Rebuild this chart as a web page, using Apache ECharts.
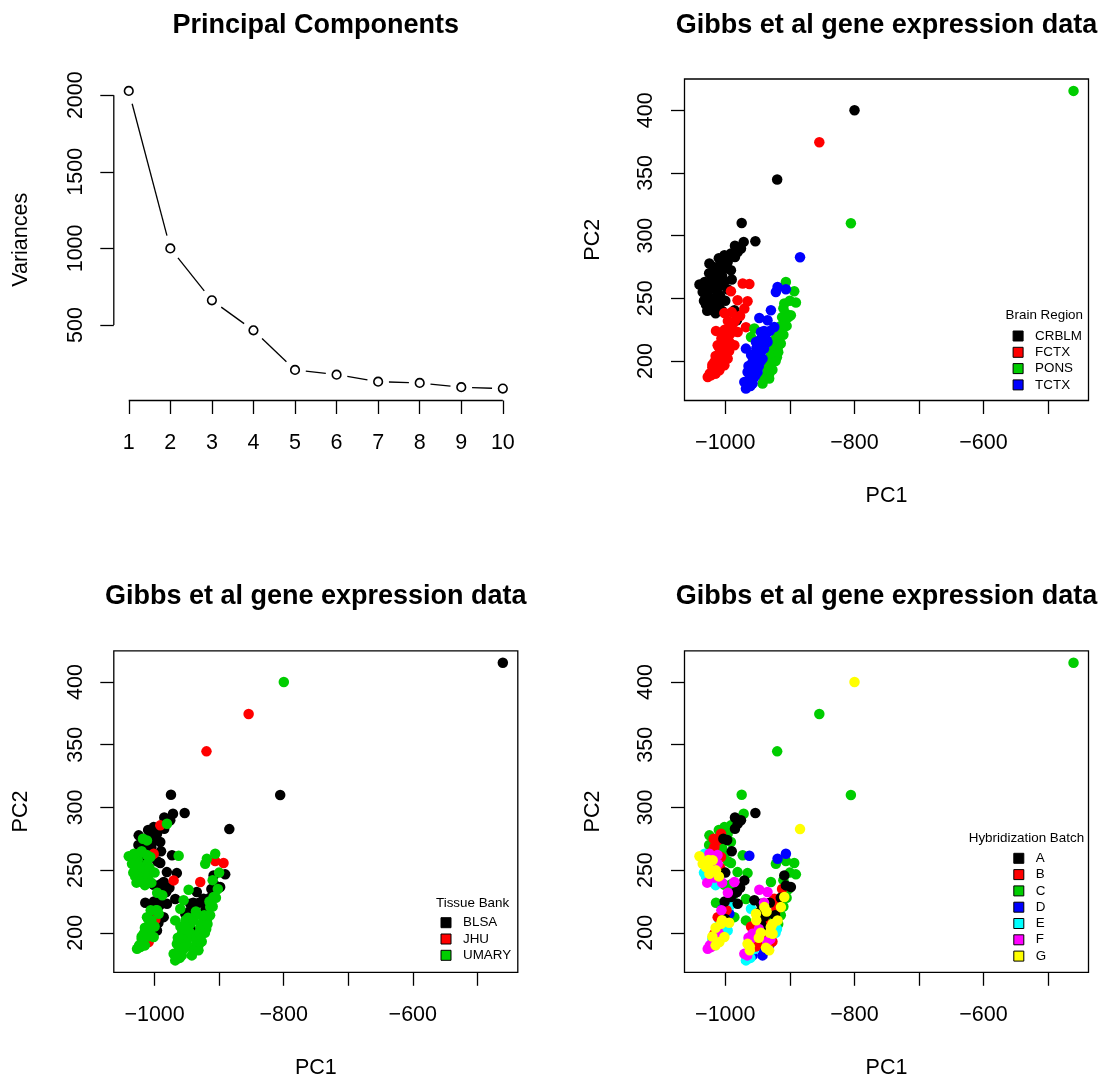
<!DOCTYPE html>
<html>
<head>
<meta charset="utf-8">
<script src="https://cdn.jsdelivr.net/npm/echarts@6/dist/echarts.min.js"></script>
<style>
  html, body { margin: 0; padding: 0; background: #ffffff; }
  #chart { width: 1102px; height: 1078px; }
</style>
</head>
<body>
<div id="chart"></div>
<script>
// ---- Scree plot: variances of the first ten principal components ----
const pcIndex   = [1, 2, 3, 4, 5, 6, 7, 8, 9, 10];
const variances = [2028, 1000, 661, 465, 207, 176, 130, 122, 94, 85];
const varTicks  = [500, 1000, 1500, 2000];

// ---- Sample scores on the first two components ----
const pc1 = [
  // cerebellum (49)
  -974.6, -971.5, -953.4, -1024.6, -1040.0, -1001.4, -991.2, -980.8, -975.7, -1006.6,
  -1011.8, -991.2, -1016.9, -1024.6, -1001.4, -1027.2, -1011.8, -1024.6, -1014.4, -1019.5,
  -1029.9, -1006.6, -1019.5, -996.3, -1030.0, -1022.0, -1017.0, -1008.0, -1026.0, -1012.0,
  -1020.0, -1005.0, -997.0, -1015.0, -1028.0, -1010.0, -985.0, -1032.0,
  -1035.0, -1033.0, -1025.0, -1018.0, -1010.0, -1003.0, -1005.0, -1000.0, -996.0, -990.0,
  -985.0,
  // frontal cortex (50)
  -973.0, -962.7, -991.2, -981.0, -965.5, -1001.4, -970.5, -968.0, -1014.4, -980.8,
  -993.7, -1006.6, -1016.9, -1022.1, -1027.2, -1009.1, -996.3, -985.9, -1004.0, -991.2,
  -1011.8, -1019.5, -1001.4, -998.9, -1020.0, -1012.0, -1005.0, -998.0, -992.0, -1015.0,
  -1008.0, -1000.0, -994.0, -988.0, -977.0,
  -1024.0, -1016.0, -1020.0, -1011.0, -1015.0, -1005.0, -1010.0, -1000.0, -1006.0, -996.0,
  -1001.0, -990.0, -996.0, -985.0, -990.0,
  // cerebellum samples lying inside the cortex band (2)
  -985.9, -981.9,
  // temporal cortex (42)
  -919.0, -906.1, -921.6, -929.3, -947.3, -934.6, -924.1, -944.7, -952.5, -934.6,
  -968.0, -944.7, -957.8, -965.5, -950.0, -970.5, -968.0, -957.8, -942.3, -939.5,
  -962.0, -955.0, -948.0, -960.0, -952.0, -964.0, -940.0, -955.0,
  -966.0, -961.0, -962.0, -953.0, -958.0, -948.0, -954.0, -945.0, -948.0, -940.0,
  -946.0, -936.0, -940.0, -931.0,
  // pons (40)
  -906.1, -893.2, -890.6, -908.6, -898.4, -908.6, -913.8, -955.0, -960.2, -919.0,
  -926.7, -931.8, -942.3, -921.6, -906.1, -929.3, -934.6, -925.0, -915.0, -912.0,
  -930.0, -920.0, -937.0, -910.0,
  -940.0, -932.0, -935.0, -927.0, -931.0, -922.0, -927.0, -918.0, -923.0, -914.0,
  -918.0, -910.0, -914.0, -905.0, -902.0, -900.0,
  // outlying samples (6)
  -884.2, -919.6, -854.3, -805.4, -799.8, -460.5
];
const pc2 = [
  310.1, 295.0, 295.5, 277.7, 261.0, 284.3, 285.7, 287.0, 289.7, 279.0,
  273.7, 272.4, 268.4, 263.0, 263.0, 255.0, 255.0, 247.0, 249.8, 240.5,
  252.4, 260.4, 257.8, 279.0, 245.0, 250.0, 244.0, 252.0, 258.0, 262.0,
  265.0, 268.0, 274.0, 238.0, 240.0, 245.0, 283.0, 263.0,
  255.0, 248.0, 270.0, 275.0, 282.0, 275.0, 240.0, 248.0, 257.0, 265.0,
  292.0,

  261.8, 261.4, 255.6, 248.4, 247.6, 238.3, 241.8, 227.0, 224.0, 223.1,
  215.2, 207.2, 199.2, 188.6, 187.2, 192.6, 201.9, 212.5, 219.2, 228.5,
  212.5, 191.2, 196.6, 210.4, 195.0, 202.0, 210.0, 218.0, 222.0, 190.0,
  198.0, 205.0, 208.0, 230.0, 236.0,
  190.0, 190.0, 197.0, 197.0, 204.0, 204.0, 211.0, 211.0, 218.0, 218.0,
  225.0, 225.0, 232.0, 232.0, 239.0,

  240.5, 232.5,

  259.0, 257.2, 255.0, 240.5, 234.3, 232.5, 227.1, 223.1, 215.2, 215.2,
  209.9, 207.2, 199.2, 191.2, 191.2, 183.2, 178.0, 182.0, 201.9, 220.5,
  186.0, 195.0, 203.0, 205.0, 210.0, 196.0, 213.0, 187.0,
  182.0, 180.0, 189.0, 189.0, 196.0, 196.0, 203.0, 200.0, 212.0, 210.0,
  217.0, 217.0, 224.0, 224.0,

  263.0, 255.6, 246.6, 245.8, 236.5, 228.5, 220.5, 225.9, 219.2, 209.9,
  199.2, 190.0, 182.0, 217.9, 237.8, 204.5, 196.6, 212.0, 225.0, 235.0,
  195.0, 203.0, 188.0, 242.0,
  186.0, 186.0, 193.0, 193.0, 200.0, 200.0, 207.0, 207.0, 214.0, 214.0,
  221.0, 221.0, 228.0, 228.0, 235.0, 248.0,

  282.7, 344.7, 374.5, 309.9, 400.0, 415.4
];

// ---- Sample annotations ----
const brainRegion = [
  'CRBLM','CRBLM','CRBLM','CRBLM','CRBLM','CRBLM','CRBLM','CRBLM','CRBLM','CRBLM',
  'CRBLM','CRBLM','CRBLM','CRBLM','CRBLM','CRBLM','CRBLM','CRBLM','CRBLM','CRBLM',
  'CRBLM','CRBLM','CRBLM','CRBLM','CRBLM','CRBLM','CRBLM','CRBLM','CRBLM','CRBLM',
  'CRBLM','CRBLM','CRBLM','CRBLM','CRBLM','CRBLM','CRBLM','CRBLM',
  'CRBLM','CRBLM','CRBLM','CRBLM','CRBLM','CRBLM','CRBLM','CRBLM','CRBLM','CRBLM',
  'CRBLM',

  'FCTX','FCTX','FCTX','FCTX','FCTX','FCTX','FCTX','FCTX','FCTX','FCTX',
  'FCTX','FCTX','FCTX','FCTX','FCTX','FCTX','FCTX','FCTX','FCTX','FCTX',
  'FCTX','FCTX','FCTX','FCTX','FCTX','FCTX','FCTX','FCTX','FCTX','FCTX',
  'FCTX','FCTX','FCTX','FCTX','FCTX',
  'FCTX','FCTX','FCTX','FCTX','FCTX','FCTX','FCTX','FCTX','FCTX','FCTX',
  'FCTX','FCTX','FCTX','FCTX','FCTX',

  'CRBLM','CRBLM',

  'TCTX','TCTX','TCTX','TCTX','TCTX','TCTX','TCTX','TCTX','TCTX','TCTX',
  'TCTX','TCTX','TCTX','TCTX','TCTX','TCTX','TCTX','TCTX','TCTX','TCTX',
  'TCTX','TCTX','TCTX','TCTX','TCTX','TCTX','TCTX','TCTX',
  'TCTX','TCTX','TCTX','TCTX','TCTX','TCTX','TCTX','TCTX','TCTX','TCTX',
  'TCTX','TCTX','TCTX','TCTX',

  'PONS','PONS','PONS','PONS','PONS','PONS','PONS','PONS','PONS','PONS',
  'PONS','PONS','PONS','PONS','PONS','PONS','PONS','PONS','PONS','PONS',
  'PONS','PONS','PONS','PONS',
  'PONS','PONS','PONS','PONS','PONS','PONS','PONS','PONS','PONS','PONS',
  'PONS','PONS','PONS','PONS','PONS','PONS',

  'TCTX','CRBLM','FCTX','PONS','CRBLM','PONS'
];
const tissueBank = [
  'BLSA','BLSA','BLSA','BLSA','UMARY','BLSA','JHU','UMARY','BLSA','BLSA',
  'UMARY','BLSA','BLSA','UMARY','JHU','UMARY','UMARY','UMARY','UMARY','UMARY',
  'UMARY','UMARY','BLSA','BLSA','UMARY','UMARY','UMARY','UMARY','UMARY','UMARY',
  'UMARY','BLSA','BLSA','UMARY','UMARY','UMARY','BLSA','UMARY',
  'UMARY','UMARY','BLSA','UMARY','BLSA','BLSA','UMARY','UMARY','BLSA','BLSA',
  'BLSA',

  'BLSA','UMARY','BLSA','BLSA','BLSA','BLSA','JHU','BLSA','BLSA','BLSA',
  'UMARY','UMARY','UMARY','UMARY','UMARY','JHU','BLSA','BLSA','BLSA','BLSA',
  'UMARY','UMARY','UMARY','JHU','UMARY','UMARY','UMARY','UMARY','BLSA','UMARY',
  'UMARY','UMARY','BLSA','UMARY','BLSA',
  'UMARY','UMARY','UMARY','UMARY','UMARY','UMARY','UMARY','BLSA','UMARY','UMARY',
  'BLSA','BLSA','UMARY','BLSA','BLSA',

  'BLSA','BLSA',

  'UMARY','JHU','UMARY','JHU','UMARY','BLSA','BLSA','BLSA','BLSA','UMARY',
  'UMARY','UMARY','UMARY','UMARY','UMARY','UMARY','UMARY','UMARY','BLSA','BLSA',
  'UMARY','UMARY','UMARY','UMARY','UMARY','UMARY','BLSA','UMARY',
  'UMARY','UMARY','UMARY','UMARY','UMARY','UMARY','UMARY','UMARY','UMARY','UMARY',
  'BLSA','UMARY','BLSA','BLSA',

  'UMARY','JHU','BLSA','BLSA','BLSA','UMARY','UMARY','UMARY','UMARY','UMARY',
  'UMARY','UMARY','UMARY','BLSA','BLSA','UMARY','UMARY','UMARY','UMARY','BLSA',
  'UMARY','UMARY','UMARY','UMARY',
  'UMARY','UMARY','UMARY','UMARY','UMARY','UMARY','UMARY','UMARY','UMARY','UMARY',
  'BLSA','UMARY','BLSA','UMARY','UMARY','UMARY',

  'BLSA','JHU','JHU','BLSA','UMARY','BLSA'
];
const hybBatch = [
  'C','C','A','C','G','C','C','A','A','B',
  'B','C','B','F','C','G','F','G','G','E',
  'G','B','G','C','E','G','F','B','G','F',
  'B','C','A','E','F','G','A','E',
  'G','E','C','B','C','A','F','A','C','A',
  'A',

  'C','D','C','C','C','C','A','C','C','A',
  'D','G','B','F','F','G','E','C','D','A',
  'B','B','G','C','E','F','G','B','E','G',
  'F','E','G','C','A',
  'F','E','G','B','G','D','E','A','F','C',
  'A','D','F','A','C',

  'F','A',

  'D','C','C','C','F','F','B','A','G','A',
  'C','A','F','G','B','F','E','D','A','G',
  'G','E','F','B','G','F','A','E',
  'F','E','G','B','F','G','E','G','A','B',
  'A','G','F','A',

  'D','C','C','A','A','G','G','A','E','G',
  'G','D','D','B','A','G','B','C','C','B',
  'F','E','G','C',
  'D','G','F','B','G','E','G','C','A','C',
  'B','C','A','C','C','C',

  'G','C','C','C','G','C'
];

// ---- Factor levels and the R default palette ----
const regionLevels = ['CRBLM', 'FCTX', 'PONS', 'TCTX'];
const bankLevels   = ['BLSA', 'JHU', 'UMARY'];
const batchLevels  = ['A', 'B', 'C', 'D', 'E', 'F', 'G'];
const palette      = ['#000000', '#FF0000', '#00CD00', '#0000FF', '#00FFFF', '#FF00FF', '#FFFF00'];

// stacking of the groups within each score plot (first drawn = lowest)
const regionDrawOrder = ['CRBLM', 'FCTX', 'PONS', 'TCTX'];
const bankDrawOrder   = ['BLSA', 'JHU', 'UMARY'];
const batchDrawOrder  = ['C', 'D', 'E', 'B', 'A', 'F', 'G'];

// ---- Axis ticks of the score plots ----
const pc1Ticks  = [-1000, -900, -800, -700, -600, -500];
const pc1Labels = [-1000, -800, -600];
const pc2Ticks  = [200, 250, 300, 350, 400];

const FONT = '"Liberation Sans", Arial, Helvetica, sans-serif';
const LABEL_SIZE = 21.5;

// R-style axis range: data range widened by 4% on each side
function rRange(values) {
  const lo = Math.min(...values), hi = Math.max(...values);
  const pad = (hi - lo) * 0.04;
  return [lo - pad, hi + pad];
}
const pcRange  = rRange(pcIndex);
const varRange = rRange(variances);
const pc1Range = rRange(pc1);
const pc2Range = rRange(pc2);

const minus = v => String(v).replace('-', '\u2212');

// plot regions (left, top) of the 2 x 2 panels
const PLOT_W = 404, PLOT_H = 321.5;
const panels = [
  { left: 113.8, top: 79 },
  { left: 684.5, top: 79 },
  { left: 113.8, top: 650.8 },
  { left: 684.5, top: 650.8 }
];

const tickStyle = { show: true, inside: false, length: 13.5, lineStyle: { color: '#000', width: 1.3 } };

function xAxisFor(k, range, ticks, labels) {
  return {
    gridIndex: k, type: 'value', min: range[0], max: range[1],
    axisLine: { show: false }, splitLine: { show: false },
    axisTick: Object.assign({ customValues: ticks }, tickStyle),
    axisLabel: {
      customValues: labels, margin: 31.5, color: '#000',
      fontFamily: FONT, fontSize: LABEL_SIZE, formatter: minus
    }
  };
}
function yAxisFor(k, range, ticks) {
  return {
    gridIndex: k, type: 'value', min: range[0], max: range[1],
    axisLine: { show: false }, splitLine: { show: false },
    axisTick: Object.assign({ customValues: ticks }, tickStyle),
    axisLabel: {
      customValues: ticks, margin: 27, rotate: 90, color: '#000',
      fontFamily: FONT, fontSize: LABEL_SIZE, formatter: minus
    }
  };
}

// scatter of the component scores, coloured by one annotation
function scoreSeries(k, groups, levels, drawOrder) {
  const order = pc1.map((_, i) => i)
    .sort((a, b) => (drawOrder.indexOf(groups[a]) - drawOrder.indexOf(groups[b])) || (a - b));
  const out = [{
    type: 'scatter', xAxisIndex: k, yAxisIndex: k, silent: true,
    symbol: 'circle', symbolSize: 10.5, z: 3,
    data: order.map(i => [pc1[i], pc2[i], levels.indexOf(groups[i])]),
    itemStyle: { color: p => palette[p.value[2]], opacity: 1 }
  }];
  // legend entries
  levels.forEach((lv, j) => out.push({
    type: 'scatter', name: lv, xAxisIndex: k, yAxisIndex: k,
    data: [], itemStyle: { color: palette[j], opacity: 1 }
  }));
  return out;
}

function legendFor(levels, left, top) {
  return {
    data: levels, orient: 'vertical', left: left, top: top, padding: 0,
    icon: 'rect', itemWidth: 10, itemHeight: 10, itemGap: 2.3,
    selectedMode: false,
    itemStyle: { borderColor: '#000', borderWidth: 1, opacity: 1 },
    textStyle: { fontFamily: FONT, fontSize: 13.4, color: '#000', lineHeight: 14, padding: [0, 0, 0, 7] }
  };
}

function text(str, x, y, size, opts) {
  opts = opts || {};
  return {
    type: 'text', x: x, y: y, rotation: opts.rotate ? Math.PI / 2 : 0, silent: true,
    style: {
      text: str, fill: '#000',
      font: (opts.bold ? 'bold ' : '') + size + 'px ' + FONT,
      textAlign: 'center', textVerticalAlign: 'middle',
      align: 'center', verticalAlign: 'middle'
    }
  };
}

const lineStyle = { stroke: '#000', lineWidth: 1.3 };

const option = {
  animation: false,
  backgroundColor: '#ffffff',
  grid: panels.map((p, k) => ({
    left: p.left, top: p.top, width: PLOT_W, height: PLOT_H,
    show: k > 0, borderColor: '#000', borderWidth: 1.3, backgroundColor: 'transparent',
    outerBoundsMode: 'none'
  })),
  xAxis: [
    xAxisFor(0, pcRange, pcIndex, pcIndex),
    xAxisFor(1, pc1Range, pc1Ticks, pc1Labels),
    xAxisFor(2, pc1Range, pc1Ticks, pc1Labels),
    xAxisFor(3, pc1Range, pc1Ticks, pc1Labels)
  ],
  yAxis: [
    yAxisFor(0, varRange, varTicks),
    yAxisFor(1, pc2Range, pc2Ticks),
    yAxisFor(2, pc2Range, pc2Ticks),
    yAxisFor(3, pc2Range, pc2Ticks)
  ],
  legend: [
    legendFor(regionLevels, 1012.6, 329),
    legendFor(bankLevels, 440.5, 915.7),
    legendFor(batchLevels, 1013.3, 851.3)
  ],
  graphic: [
    text('Principal Components', 315.8, 25.5, 27, { bold: true }),
    text('Gibbs et al gene expression data', 886.5, 25.5, 27, { bold: true }),
    text('Gibbs et al gene expression data', 315.8, 596.5, 27, { bold: true }),
    text('Gibbs et al gene expression data', 886.5, 596.5, 27, { bold: true }),
    text('Variances', 21.5, 239.8, LABEL_SIZE, { rotate: true }),
    text('PC2', 592.7, 239.8, LABEL_SIZE, { rotate: true }),
    text('PC2', 21.5, 811.5, LABEL_SIZE, { rotate: true }),
    text('PC2', 592.7, 811.5, LABEL_SIZE, { rotate: true }),
    text('PC1', 886.5, 496.5, LABEL_SIZE),
    text('PC1', 315.8, 1068, LABEL_SIZE),
    text('PC1', 886.5, 1068, LABEL_SIZE),
    text('Brain Region', 1044.3, 315, 13.4),
    text('Tissue Bank', 472.6, 903, 13.4),
    text('Hybridization Batch', 1026.4, 838, 13.4)
  ],
  series: [
    // line segments between scree points, stopped short of each circle
    {
      type: 'custom', xAxisIndex: 0, yAxisIndex: 0, silent: true, clip: false, z: 2,
      data: variances.slice(1).map((v, i) => [pcIndex[i], variances[i], pcIndex[i + 1], v]),
      encode: { x: [0, 2], y: [1, 3] },
      renderItem: (params, api) => {
        const a = api.coord([api.value(0), api.value(1)]);
        const b = api.coord([api.value(2), api.value(3)]);
        const dx = b[0] - a[0], dy = b[1] - a[1];
        const len = Math.hypot(dx, dy);
        const ux = dx / len, uy = dy / len;
        const gap = 1 / Math.sqrt((ux / 10.8) ** 2 + (uy / 13.5) ** 2);
        if (len <= 2 * gap) return null;
        return {
          type: 'line',
          shape: { x1: a[0] + ux * gap, y1: a[1] + uy * gap, x2: b[0] - ux * gap, y2: b[1] - uy * gap },
          style: lineStyle
        };
      }
    },
    {
      type: 'scatter', xAxisIndex: 0, yAxisIndex: 0, silent: true, z: 3,
      symbol: 'circle', symbolSize: 8.6,
      data: pcIndex.map((x, i) => [x, variances[i]]),
      itemStyle: { color: '#ffffff', borderColor: '#000000', borderWidth: 1.6, opacity: 1 }
    },
    // scree axis lines spanning first to last tick only
    {
      type: 'custom', xAxisIndex: 0, yAxisIndex: 0, silent: true, clip: false, z: 4,
      data: [[pcIndex[0], variances[0]]],
      renderItem: (params, api) => {
        const y0 = api.coord([pcRange[0], varTicks[0]]);
        const y1 = api.coord([pcRange[0], varTicks[varTicks.length - 1]]);
        const x0 = api.coord([pcIndex[0], varRange[0]]);
        const x1 = api.coord([pcIndex[pcIndex.length - 1], varRange[0]]);
        return {
          type: 'group',
          children: [
            { type: 'line', shape: { x1: y0[0], y1: y0[1], x2: y1[0], y2: y1[1] }, style: lineStyle },
            { type: 'line', shape: { x1: x0[0], y1: x0[1], x2: x1[0], y2: x1[1] }, style: lineStyle }
          ]
        };
      }
    }
  ]
    .concat(scoreSeries(1, brainRegion, regionLevels, regionDrawOrder))
    .concat(scoreSeries(2, tissueBank, bankLevels, bankDrawOrder))
    .concat(scoreSeries(3, hybBatch, batchLevels, batchDrawOrder))
};

const chart = echarts.init(document.getElementById('chart'), null, { renderer: 'canvas' });
chart.setOption(option);
</script>
</body>
</html>
